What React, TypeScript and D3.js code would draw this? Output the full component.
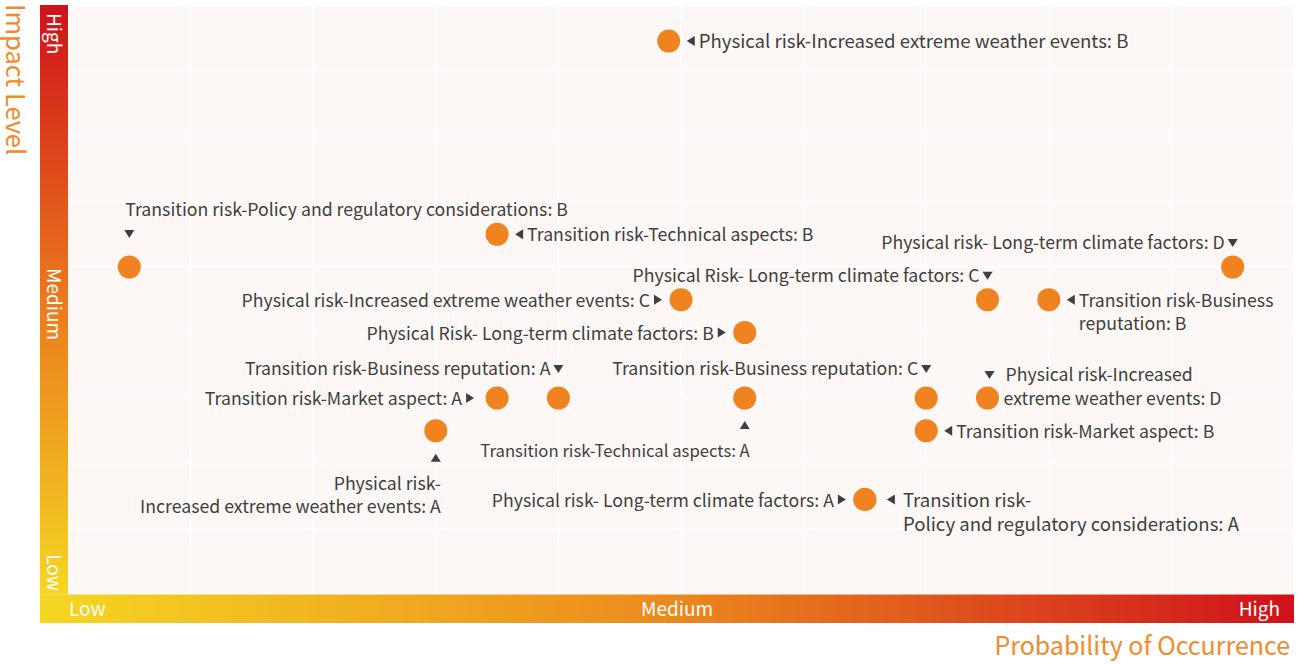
import React from "react";
import * as d3 from "d3";

// ---- Data ----
const riskNames: string[] = [
  "Physical risk-Increased extreme weather events: B",
  "Transition risk-Policy and regulatory considerations: B",
  "Transition risk-Technical aspects: B",
  "Physical risk- Long-term climate factors: D",
  "Physical Risk- Long-term climate factors: C",
  "Transition risk-Business\nreputation: B",
  "Physical risk-Increased extreme weather events: C",
  "Physical Risk- Long-term climate factors: B",
  "Transition risk-Business reputation: A",
  "Transition risk-Market aspect: A",
  "Transition risk-Business reputation: C",
  "Physical risk-Increased\nextreme weather events: D",
  "Transition risk-Technical aspects: A",
  "Transition risk-Market aspect: B",
  "Physical risk-\nIncreased extreme weather events: A",
  "Physical risk- Long-term climate factors: A",
  "Transition risk-\nPolicy and regulatory considerations: A",
];
const probability: number[] = [4.9, 0.5, 3.5, 9.5, 7.5, 8, 5, 5.52, 4, 3.5, 7, 7.5, 5.52, 7, 3, 6.5, 6.5];
const impact: number[] = [8.45, 5, 5.5, 5, 4.5, 4.5, 4.5, 4, 3, 3, 3, 3, 3, 2.5, 2.5, 1.45, 1.45];
const levelLabels: string[] = ["Low", "Medium", "High"];
const xTitle = "Probability of Occurrence";
const yTitle = "Impact Level";

// ---- Label layout (placement type and text size per point) ----
type Side = "right" | "rightFar" | "left" | "leftFar" | "above" | "aboveLow" | "aboveStart" | "below" | "rightDown";
const labelSide: Side[] = [
  "right", "aboveStart", "right", "aboveLow", "aboveLow", "right", "left", "left",
  "above", "leftFar", "above", "rightDown", "below", "right", "below", "left", "rightFar",
];
const labelSize: number[] = [
  18.6, 17.7, 17.7, 17.7, 17.7, 17.7, 17.7, 17.7,
  17.7, 17.7, 17.7, 17.7, 16.7, 17.7, 17.7, 17.7, 18.6,
];

const W = 1304;
const H = 664;
const FONT = "'Noto Sans CJK SC', 'Noto Sans', sans-serif";
const TEXT = "#3f3f3f";
const ORANGE = "#f08220";

function Tri({ x, y, dir }: { x: number; y: number; dir: "l" | "r" | "u" | "d" }) {
  const s = 5;
  let pts: [number, number][];
  if (dir === "l") pts = [[x + s * 0.8, y - s], [x + s * 0.8, y + s], [x - s * 0.8, y]];
  else if (dir === "r") pts = [[x - s * 0.8, y - s], [x - s * 0.8, y + s], [x + s * 0.8, y]];
  else if (dir === "d") pts = [[x - s, y - s * 0.8], [x + s, y - s * 0.8], [x, y + s * 0.8]];
  else pts = [[x - s, y + s * 0.8], [x + s, y + s * 0.8], [x, y - s * 0.8]];
  return <path d={d3.line()(pts)! + "Z"} fill={TEXT} />;
}

export default function App() {
  const left = 68, right = 1294, top = 5, bottom = 594.5;
  const x = d3.scaleLinear().domain([0, 10]).range([left, right]);
  const y = d3.scaleLinear().domain([0, 9]).range([bottom, top]);
  const xTicks = d3.range(0, 11);
  const yTicks = d3.range(0, 10);

  const labels = riskNames.map((name, i) => {
    const cx = x(probability[i]);
    const cy = y(impact[i]);
    const lines = name.split("\n");
    const side = labelSide[i];
    const lh = labelSize[i] > 18 ? 24.5 : 23.5;
    const els: React.ReactNode[] = [];
    if (side === "right" || side === "rightFar") {
      const far = side === "rightFar";
      els.push(<Tri key="t" x={cx + (far ? 26 : 22)} y={cy} dir="l" />);
      lines.forEach((l, k) =>
        els.push(<text key={k} x={cx + (far ? 38 : 30)} y={cy + 7 + k * lh}>{l}</text>));
    } else if (side === "left" || side === "leftFar") {
      const far = side === "leftFar";
      els.push(<Tri key="t" x={cx - (far ? 27 : 23)} y={cy} dir="r" />);
      lines.forEach((l, k) =>
        els.push(<text key={k} x={cx - (far ? 35 : 31)} y={cy + 7 + k * lh} textAnchor="end">{l}</text>));
    } else if (side === "above" || side === "aboveLow") {
      const o = side === "aboveLow" ? 5 : 0;
      els.push(<Tri key="t" x={cx} y={cy - 29 + o} dir="d" />);
      els.push(<text key={0} x={cx - 8} y={cy - 23 + o} textAnchor="end">{lines[0]}</text>);
    } else if (side === "aboveStart") {
      els.push(<Tri key="t" x={cx} y={cy - 33} dir="d" />);
      els.push(<text key={0} x={cx - 4} y={cy - 51}>{lines[0]}</text>);
    } else if (side === "below") {
      els.push(<Tri key="t" x={cx} y={cy + 27} dir="u" />);
      const base = cy + 59;
      lines.forEach((l, k) =>
        els.push(<text key={k} x={cx + 5} y={base + k * lh} textAnchor="end">{l}</text>));
    } else if (side === "rightDown") {
      els.push(<Tri key="t" x={cx + 2} y={cy - 23} dir="d" />);
      els.push(<text key={0} x={cx + 18} y={cy - 17}>{lines[0]}</text>);
      els.push(<text key={1} x={cx + 16} y={cy + 7}>{lines[1]}</text>);
    }
    return <g key={i} fontSize={labelSize[i]}>{els}</g>;
  });

  return (
    <svg width={W} height={H} style={{ position: "absolute", left: 0, top: 0 }} fontFamily={FONT}>
      <defs>
        <linearGradient id="vgrad" x1="0" y1="0" x2="0" y2="1">
          <stop offset="0" stopColor="#cf111b" />
          <stop offset="0.5" stopColor="#ea7a1c" />
          <stop offset="1" stopColor="#f5d623" />
        </linearGradient>
        <linearGradient id="hgrad" x1="0" y1="0" x2="1" y2="0">
          <stop offset="0" stopColor="#f5d623" />
          <stop offset="0.5" stopColor="#ec8a1d" />
          <stop offset="1" stopColor="#cf111b" />
        </linearGradient>
      </defs>
      <rect x={left} y={top} width={right - left} height={bottom - top} fill="#fdf8f5" />
      {xTicks.map((t) => (
        <line key={"gx" + t} x1={x(t)} x2={x(t)} y1={top} y2={bottom} stroke="#ffffff" strokeWidth={1.5} />
      ))}
      {yTicks.map((t) => (
        <line key={"gy" + t} x1={left} x2={right} y1={y(t)} y2={y(t)} stroke="#ffffff" strokeWidth={1.5} />
      ))}
      <rect x={40} y={top} width={left - 40} height={bottom - top} fill="url(#vgrad)" />
      <rect x={40} y={bottom} width={right - 40} height={28.5} fill="url(#hgrad)" />
      {/* bar labels */}
      <g fill="#ffffff" fontSize={19}>
        <text x={69} y={616}>{levelLabels[0]}</text>
        <text x={677} y={616} textAnchor="middle">{levelLabels[1]}</text>
        <text x={1280} y={616} textAnchor="end">{levelLabels[2]}</text>
        <text transform={`translate(47,${591}) rotate(90)`} textAnchor="end">{levelLabels[0]}</text>
        <text transform={`translate(47,${304}) rotate(90)`} textAnchor="middle">{levelLabels[1]}</text>
        <text transform={`translate(47,${13}) rotate(90)`}>{levelLabels[2]}</text>
      </g>
      <text x={1290} y={655} textAnchor="end" fill="#f28a2a" fontSize={25}>{xTitle}</text>
      <text transform="translate(6,4) rotate(90)" fill="#f28a2a" fontSize={25.5}>{yTitle}</text>
      {/* points */}
      {probability.map((p, i) => (
        <circle key={"c" + i} cx={x(p)} cy={y(impact[i])} r={11.5} fill={ORANGE} />
      ))}
      <g fill={TEXT}>{labels}</g>
    </svg>
  );
}
